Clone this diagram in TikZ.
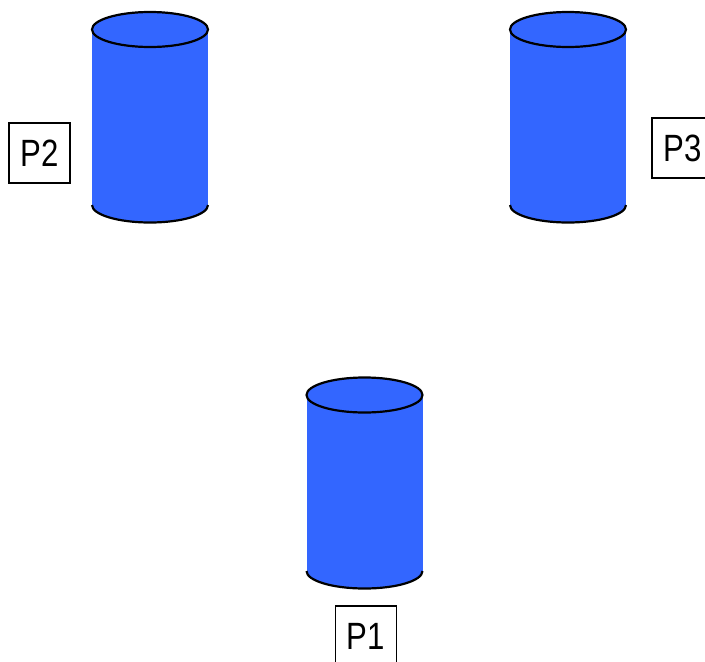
\documentclass[tikz,border=0pt]{standalone}
\usepackage{fontspec}
\setmainfont{Liberation Sans}
\newfontfamily\procfont[FakeStretch=0.82]{Liberation Sans}
\usetikzlibrary{positioning}
\definecolor{barrel}{HTML}{3366FF}

\begin{document}
\begin{tikzpicture}[x=1pt, y=-1pt,
    procbox/.style={draw, line width=1.3pt, minimum width=61pt, minimum height=60pt,
      inner sep=0pt, font=\procfont\fontsize{38}{40}\selectfont},
    rim/.style={draw=black, line width=2.2pt}]

    \useasboundingbox (0,0) rectangle (705,662);
    \clip (0,0) rectangle (705,662);

    \def \rx {58}
    \def \ry {17.5}

    % centre x / top rim / bottom rim / name
    \foreach \x/\t/\b/\i in {150/29.5/205/2, 568/29.5/205/3, 364.5/395/571/1}
    {
      \coordinate (c\i) at (\x,\t);
      \fill[barrel] (\x-\rx,\t) rectangle (\x+\rx,\b);
      \fill[barrel] (\x-\rx,\b) arc (180:360:\rx pt and \ry pt);
      \draw[rim] (\x-\rx,\b) arc (180:360:\rx pt and \ry pt);
      \filldraw[rim, fill=barrel] (c\i) ellipse [x radius=\rx pt, y radius=\ry pt];
    }

    \node[procbox] (p2) at (39.5,153) {P2};
    \node[procbox] (p3) at (682.5,148) {P3};
    \node[procbox] (p1) at (366,636) {P1};
\end{tikzpicture}
\end{document}
